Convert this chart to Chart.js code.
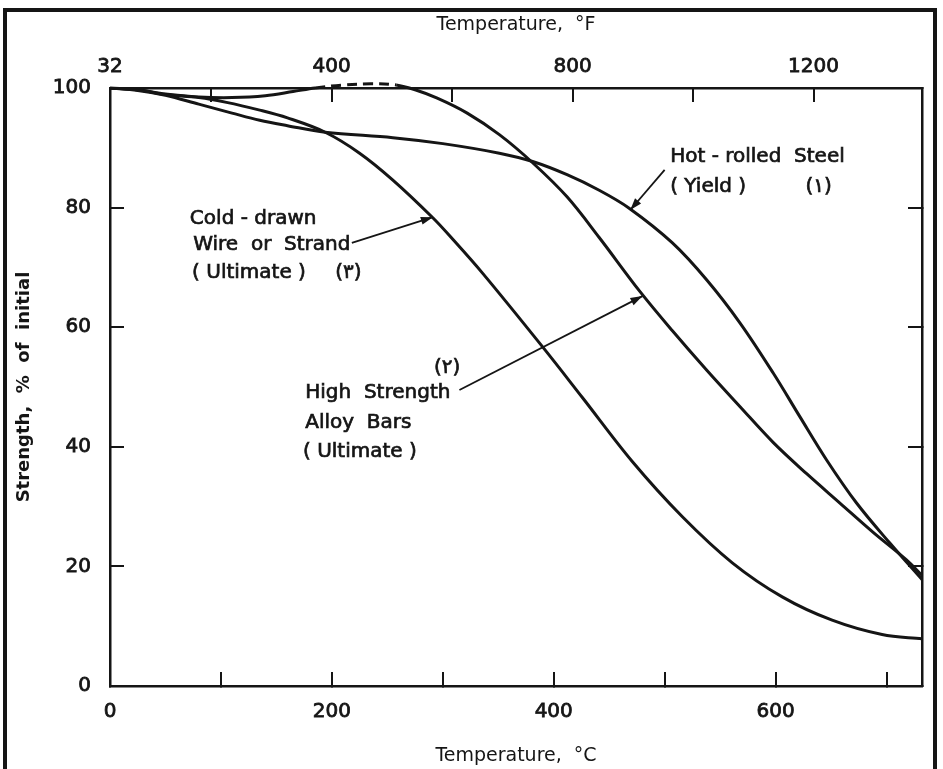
<!DOCTYPE html>
<html>
<head>
<meta charset="utf-8">
<script src="https://cdn.jsdelivr.net/npm/chart.js@4.4.1/dist/chart.umd.min.js"></script>
<style>
  html, body { margin: 0; padding: 0; background: #fff; }
  #wrap { position: relative; width: 943px; height: 769px; overflow: hidden; }
  #frame { position: absolute; left: 3px; top: 8px; width: 926px; height: 800px;
           border: 4px solid #151515; pointer-events: none; }
</style>
</head>
<body>
<div id="wrap">
  <canvas id="strengthChart"></canvas>
  <div id="frame"></div>
</div>
<script>
// axis ticks
var X_TICKS_C = [0, 100, 200, 300, 400, 500, 600, 700];
var X_LABELS_C = [0, 200, 400, 600];
var F_TICKS = [32, 200, 400, 600, 800, 1000, 1200];
var F_LABELS = [32, 400, 800, 1200];
var Y_TICKS = [0, 20, 40, 60, 80, 100];

// curves (temperature in C, strength in % of initial)
var hotRolledTemp = [0, 25, 50, 80, 110, 135, 160, 194, 255, 300, 351, 381, 412, 441, 468, 507, 538, 568, 598, 622, 646, 673, 703, 732];
var hotRolledStrength = [100, 99.6, 98.8, 97.3, 95.8, 94.6, 93.7, 92.6, 91.7, 90.7, 89.1, 87.7, 85.5, 82.9, 79.9, 74.1, 67.9, 60.7, 52.3, 45.0, 37.8, 30.6, 23.9, 17.8];

var coldDrawnTemp = [0, 25, 50, 80, 105, 135, 160, 194, 225, 255, 291, 309, 336, 390, 426, 471, 516, 561, 606, 651, 696, 732];
var coldDrawnStrength = [100, 99.7, 98.9, 98.4, 97.6, 96.3, 95.0, 92.6, 89.1, 84.6, 78.3, 74.7, 69.0, 56.7, 48.2, 37.5, 28.3, 20.6, 14.9, 11.0, 8.6, 7.9];

var alloyBarTemp = [0, 25, 50, 80, 110, 140, 165, 185, 210, 235, 258, 275, 295, 322, 351, 381, 412, 441, 478, 507, 538, 568, 598, 628, 658, 688, 718, 732];
var alloyBarStrength = [100, 99.7, 99.0, 98.5, 98.4, 98.7, 99.4, 100, 100.5, 100.7, 100.5, 99.7, 98.3, 95.8, 92.2, 87.5, 81.8, 75.0, 65.9, 59.4, 52.8, 46.7, 40.7, 35.5, 30.6, 25.7, 21.1, 18.5];

function toPoints(xs, ys) {
  return xs.map(function (x, i) { return { x: x, y: ys[i] }; });
}

// labels and arrows, placed in data units
var notes = [
  { text: "Hot - rolled  Steel", x: 505, y: 88.5 },
  { text: "( Yield )", x: 505, y: 83.4 },
  { text: "(١)", x: 627, y: 83.4 },
  { text: "Cold - drawn", x: 72, y: 78.1 },
  { text: "Wire  or  Strand", x: 75, y: 73.7 },
  { text: "( Ultimate )", x: 74, y: 69.1 },
  { text: "(٣)", x: 203, y: 69.1 },
  { text: "(٢)", x: 292, y: 53.2 },
  { text: "High  Strength", x: 176, y: 49.0 },
  { text: "Alloy  Bars", x: 176, y: 44.0 },
  { text: "( Ultimate )", x: 174, y: 39.1 }
];
var arrows = [
  { from: [500, 86.3], to: [469, 79.6] },
  { from: [218, 74.1], to: [291, 78.4] },
  { from: [315, 49.5], to: [480, 65.2] }
];

var INK = "#151515";
var FONT = "'DejaVu Sans', sans-serif";

var notesPlugin = {
  id: "notes",
  afterDatasetsDraw: function (chart) {
    var ctx = chart.ctx;
    var sx = chart.scales.x, sy = chart.scales.y;
    ctx.save();
    ctx.fillStyle = INK;
    ctx.strokeStyle = INK;
    ctx.font = "20px " + FONT;
    ctx.textAlign = "left";
    ctx.textBaseline = "middle";
    ctx.lineWidth = 0.7;
    notes.forEach(function (n) {
      var px = sx.getPixelForValue(n.x), py = sy.getPixelForValue(n.y);
      ctx.fillText(n.text, px, py);
      ctx.strokeText(n.text, px, py);
    });
    ctx.lineWidth = 1.8;
    arrows.forEach(function (a) {
      var x0 = sx.getPixelForValue(a.from[0]), y0 = sy.getPixelForValue(a.from[1]);
      var x1 = sx.getPixelForValue(a.to[0]), y1 = sy.getPixelForValue(a.to[1]);
      var ang = Math.atan2(y1 - y0, x1 - x0);
      ctx.beginPath();
      ctx.moveTo(x0, y0);
      ctx.lineTo(x1, y1);
      ctx.stroke();
      ctx.beginPath();
      ctx.moveTo(x1, y1);
      ctx.lineTo(x1 - 12 * Math.cos(ang) + 4 * Math.sin(ang), y1 - 12 * Math.sin(ang) - 4 * Math.cos(ang));
      ctx.lineTo(x1 - 12 * Math.cos(ang) - 4 * Math.sin(ang), y1 - 12 * Math.sin(ang) + 4 * Math.cos(ang));
      ctx.closePath();
      ctx.fill();
    });
    ctx.restore();
  }
};

function fixedTicks(list) {
  return function (scale) {
    scale.ticks = list.map(function (v) { return { value: v }; });
  };
}

var tickGrid = {
  drawOnChartArea: false,
  drawTicks: true,
  tickLength: -14,
  color: INK,
  lineWidth: 2
};
var axisBorder = { display: true, color: INK, width: 2.5 };
var tickFont = { family: FONT, size: 20 };

var line = {
  borderColor: INK,
  borderWidth: 3,
  pointRadius: 0,
  fill: false,
  tension: 0.35
};

new Chart("strengthChart", {
  type: "line",
  data: {
    datasets: [
      Object.assign({ label: "Hot-rolled Steel (Yield)", data: toPoints(hotRolledTemp, hotRolledStrength) }, line),
      Object.assign({ label: "Cold-drawn Wire or Strand (Ultimate)", data: toPoints(coldDrawnTemp, coldDrawnStrength) }, line),
      Object.assign({
        label: "High Strength Alloy Bars (Ultimate)",
        data: toPoints(alloyBarTemp, alloyBarStrength),
        clip: 8,
        segment: {
          borderDash: function (c) {
            return (c.p0.parsed.y >= 100 && c.p1.parsed.y >= 100) ? [10, 6] : undefined;
          }
        }
      }, line)
    ]
  },
  options: {
    responsive: true,
    maintainAspectRatio: false,
    animation: false,
    layout: { padding: 0 },
    elements: { line: { capBezierPoints: false } },
    plugins: {
      legend: { display: false },
      tooltip: { enabled: false }
    },
    scales: {
      x: {
        type: "linear",
        position: "bottom",
        min: 0,
        max: 732,
        afterBuildTicks: fixedTicks(X_TICKS_C),
        afterFit: function (s) { s.height = 83; },
        grid: tickGrid,
        border: axisBorder,
        ticks: {
          autoSkip: false,
          maxRotation: 0,
          padding: 28,
          color: INK,
          textStrokeColor: INK,
          textStrokeWidth: 0.8,
          font: tickFont,
          callback: function (v) { return X_LABELS_C.indexOf(v) >= 0 ? String(v) : ""; }
        },
        title: {
          display: true,
          text: "Temperature,  °C",
          color: INK,
          font: { family: FONT, size: 19 },
          padding: { top: 0, bottom: 2 }
        }
      },
      xF: {
        type: "linear",
        position: "top",
        min: 32,
        max: 1380,
        afterBuildTicks: fixedTicks(F_TICKS),
        afterFit: function (s) { s.height = 88; },
        grid: tickGrid,
        border: axisBorder,
        ticks: {
          autoSkip: false,
          maxRotation: 0,
          padding: 23,
          color: INK,
          textStrokeColor: INK,
          textStrokeWidth: 0.8,
          font: tickFont,
          callback: function (v) { return F_LABELS.indexOf(v) >= 0 ? String(v) : ""; }
        },
        title: {
          display: true,
          text: "Temperature,  °F",
          color: INK,
          font: { family: FONT, size: 19 },
          padding: { top: 14, bottom: 0 }
        }
      },
      y: {
        type: "linear",
        position: "left",
        min: 0,
        max: 100,
        afterBuildTicks: fixedTicks(Y_TICKS),
        afterFit: function (s) { s.width = 110; },
        grid: tickGrid,
        border: axisBorder,
        ticks: {
          padding: 33,
          color: INK,
          textStrokeColor: INK,
          textStrokeWidth: 0.8,
          font: tickFont
        },
        title: {
          display: true,
          text: "Strength,  %  of  initial",
          color: INK,
          font: { family: FONT, size: 18, weight: "bold" },
          padding: { top: 14, bottom: 0 }
        }
      },
      yR: {
        type: "linear",
        position: "right",
        min: 0,
        max: 100,
        afterBuildTicks: fixedTicks(Y_TICKS),
        afterFit: function (s) { s.width = 21; },
        grid: tickGrid,
        border: axisBorder,
        ticks: { display: false }
      }
    }
  },
  plugins: [notesPlugin]
});
</script>
</body>
</html>
